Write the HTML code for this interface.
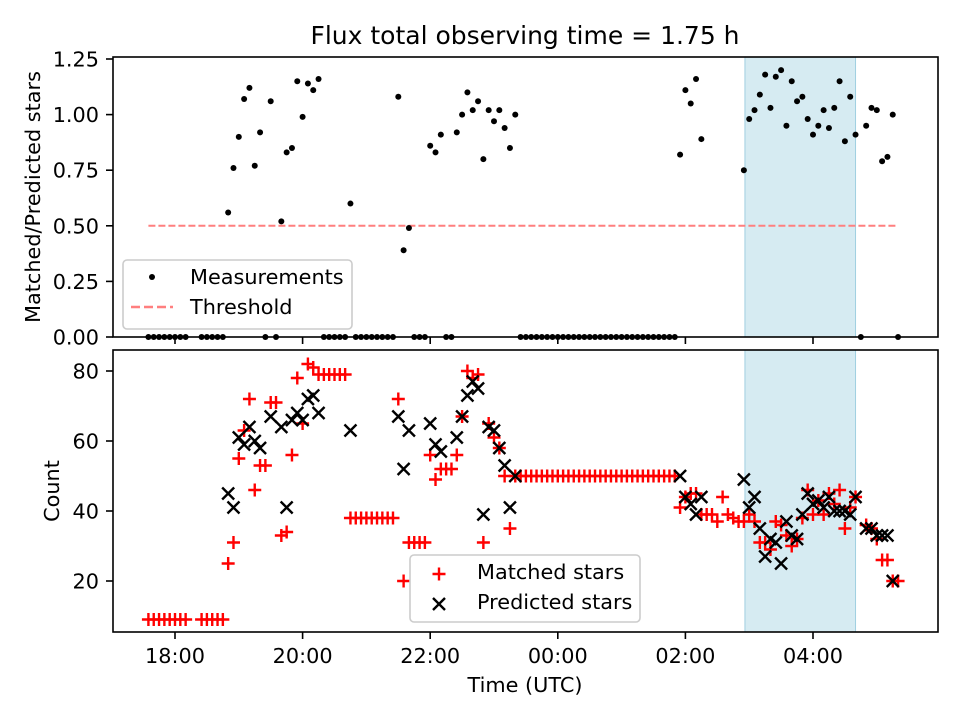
<!DOCTYPE html>
<html><head><meta charset="utf-8"><style>
body{margin:0;background:#fff;}
svg{display:block;font-family:"DejaVu Sans","Liberation Sans",sans-serif;}
</style></head><body>
<svg id="chart" width="960" height="720" viewBox="0 0 960 720" xmlns="http://www.w3.org/2000/svg">
<rect width="960" height="720" fill="#fff"/>
<text x="525" y="44" font-size="25" text-anchor="middle">Flux total observing time = 1.75 h</text>
<g id="gtop"></g>
<g id="gbot"></g>
<text transform="translate(40,197) rotate(-90)" font-size="20.8" text-anchor="middle">Matched/Predicted stars</text>
<text transform="translate(59,491) rotate(-90)" font-size="20.8" text-anchor="middle">Count</text>
<text x="525" y="692" font-size="20.8" text-anchor="middle">Time (UTC)</text>
</svg>
<script>
// minutes since 18:00
const ratioTimes = [50,55,60,65,70,75,80,90,100,105,110,115,120,125,130,135,165,210,215,220,240,245,250,265,270,275,280,285,290,295,300,305,310,315,320,475,480,485,490,495,535,540,545,550,555,560,565,570,575,580,585,590,595,600,605,610,615,620,625,630,635,640,650,655,660,665,670,675];
const ratioValues = [0.56,0.76,0.90,1.07,1.12,0.77,0.92,1.06,0.52,0.83,0.85,1.15,0.99,1.14,1.11,1.16,0.60,1.08,0.39,0.49,0.86,0.83,0.91,0.92,1.00,1.10,1.02,1.06,0.80,1.02,0.97,1.02,0.94,0.85,1.00,0.82,1.11,1.05,1.16,0.89,0.75,0.98,1.02,1.09,1.18,1.03,1.17,1.20,0.95,1.15,1.06,1.08,0.98,0.91,0.95,1.02,0.94,1.03,1.15,0.88,1.08,0.91,0.95,1.03,1.02,0.79,0.81,1.00];
const zeroTimes = [-25,-20,-15,-10,-5,0,5,10,25,30,35,40,45,85,95,140,145,150,155,160,170,175,180,185,190,195,200,205,225,230,235,255,260,325,330,335,340,345,350,355,360,365,370,375,380,385,390,395,400,405,410,415,420,425,430,435,440,445,450,455,460,465,470,645,680];
const matchedTimes = [-25,-20,-15,-10,-5,0,5,10,25,30,35,40,45,50,55,60,65,70,75,80,85,90,95,100,105,110,115,120,125,130,135,140,145,150,155,160,165,170,175,180,185,190,195,200,205,210,215,220,225,230,235,240,245,250,255,260,265,270,275,280,285,290,295,300,305,310,315,320,325,330,335,340,345,350,355,360,365,370,375,380,385,390,395,400,405,410,415,420,425,430,435,440,445,450,455,460,465,470,475,480,485,490,495,500,505,510,515,520,525,530,535,540,545,550,555,560,565,570,575,580,585,590,595,600,605,610,615,620,625,630,635,640,650,655,660,665,670,675,680];
const matchedValues = [9,9,9,9,9,9,9,9,9,9,9,9,9,
25,31,55,63,72,46,53,53,71,71,33,34,56,78,65,82,81,
79,79,79,79,79,79,
38,38,38,38,38,38,38,38,38,
72,20,31,31,31,31,56,49,52,52,52,
56,67,80,78,79,31,65,61,58,50,35,
50,50,50,50,50,50,50,50,50,50,
50,50,50,50,50,50,50,50,50,50,
50,50,50,50,50,50,50,50,50,50,
50,
41,44,45,45,39,39,39,37,44,39,38,37,37,39,37,31,31,29,37,36,33,30,32,38,46,39,43,39,45,42,46,35,41,44,
36,35,32,26,26,20,20];
const predTimes = [50,55,60,65,70,75,80,90,100,105,110,115,120,125,130,135,165,210,215,220,240,245,250,265,270,275,280,285,290,295,300,305,310,315,320,475,480,485,490,495,535,540,545,550,555,560,565,570,575,580,585,590,595,600,605,610,615,620,625,630,635,640,650,655,660,665,670,675];
const predValues = [45,41,61,59,64,60,58,67,64,41,66,68,66,72,73,68,63,67,52,63,65,59,57,61,67,73,77,75,39,64,63,58,53,41,50,50,44,42,39,44,49,41,44,35,27,32,31,25,37,33,32,39,45,42,43,41,44,40,40,40,39,44,35,35,33,33,33,20];
const xTickLabels = ["18:00","20:00","22:00","00:00","02:00","04:00"];
const xTickMinutes = [0,120,240,360,480,600];
const topTicks = [0,0.25,0.5,0.75,1.0,1.25];
const botTicks = [20,40,60,80];
const threshold = 0.5;
const shadeRange = [536,640];

const NS="http://www.w3.org/2000/svg";
const L=113,R=938,T1=57,B1=337,T2=350,B2=632;
const FS=20.8;
const xs=m=>175+m/60*63.8;
const y1=v=>337-v*222.4;
const y2=v=>581-(v-20)*3.5;
function mk(p,tag,a){const e=document.createElementNS(NS,tag);for(const k in a)e.setAttribute(k,a[k]);p.appendChild(e);return e;}
const gTop=document.getElementById('gtop'),gBot=document.getElementById('gbot');

[[gTop,T1,B1],[gBot,T2,B2]].forEach(([g,T,B])=>{
  const s=mk(g,'rect',{x:xs(shadeRange[0]),y:T,width:xs(shadeRange[1])-xs(shadeRange[0]),height:B-T,fill:'#add8e6','fill-opacity':0.5,stroke:'#9fcfe0','stroke-width':1});
  
  
});

const th=mk(gTop,'line',{x1:xs(-25),x2:xs(680),y1:y1(threshold),y2:y1(threshold),stroke:'#ff7f7f','stroke-width':2,'stroke-dasharray':'7,3'});



ratioTimes.forEach((t,i)=>{
  const c=mk(gTop,'circle',{cx:xs(t),cy:y1(ratioValues[i]),r:3,fill:'#000'});
  
  
});
zeroTimes.forEach(t=>{
  const c=mk(gTop,'circle',{cx:xs(t),cy:y1(0),r:3,fill:'#000'});
  
  
});
matchedTimes.forEach((t,i)=>{
  if(matchedValues[i]===undefined)return;
  const x=xs(t),y=y2(matchedValues[i]);
  const p=mk(gBot,'path',{d:`M${x-6.5},${y}H${x+6.5}M${x},${y-6.5}V${y+6.5}`,stroke:'#f00','stroke-width':2.4});
  
  
});
predTimes.forEach((t,i)=>{
  const x=xs(t),y=y2(predValues[i]);
  const p=mk(gBot,'path',{d:`M${x-6},${y-6}L${x+6},${y+6}M${x-6},${y+6}L${x+6},${y-6}`,stroke:'#000','stroke-width':2.4});
  
  
});

[[gTop,T1,B1],[gBot,T2,B2]].forEach(([g,T,B],k)=>{
  mk(g,'rect',{x:L,y:T,width:R-L,height:B-T,fill:'none',stroke:'#000','stroke-width':1.6});
  xTickMinutes.forEach((m,i)=>{
    mk(g,'line',{x1:xs(m),x2:xs(m),y1:B,y2:B+7,stroke:'#000','stroke-width':1.6});
    if(k===1){const t=mk(g,'text',{x:xs(m),y:B+31,'font-size':FS,'text-anchor':'middle'});t.textContent=xTickLabels[i];
      
      }
  });
});
topTicks.forEach(v=>{
  mk(gTop,'line',{x1:L-7,x2:L,y1:y1(v),y2:y1(v),stroke:'#000','stroke-width':1.6});
  const t=mk(gTop,'text',{x:L-14,y:y1(v)+7.5,'font-size':FS,'text-anchor':'end'});t.textContent=v.toFixed(2);
  
  
});
botTicks.forEach(v=>{
  mk(gBot,'line',{x1:L-7,x2:L,y1:y2(v),y2:y2(v),stroke:'#000','stroke-width':1.6});
  const t=mk(gBot,'text',{x:L-14,y:y2(v)+7.5,'font-size':FS,'text-anchor':'end'});t.textContent=v;
  
  
});

const lg1=mk(gTop,'g',{});


mk(lg1,'rect',{x:123,y:260,width:229,height:69,rx:4,fill:'#fff','fill-opacity':0.8,stroke:'#ccc','stroke-width':1.6});
mk(lg1,'circle',{cx:152,cy:277,r:3,fill:'#000'});
mk(lg1,'line',{x1:131,x2:173,y1:307,y2:307,stroke:'#ff7f7f','stroke-width':2.4,'stroke-dasharray':'9,4'});
let t=mk(lg1,'text',{x:190,y:284,'font-size':FS});t.textContent='Measurements';
t=mk(lg1,'text',{x:190,y:314,'font-size':FS});t.textContent='Threshold';

const lg2=mk(gBot,'g',{});


mk(lg2,'rect',{x:410,y:555,width:230,height:67,rx:4,fill:'#fff','fill-opacity':0.8,stroke:'#ccc','stroke-width':1.6});
mk(lg2,'path',{d:'M432.5,574H445.5M439,567.5V580.5',stroke:'#f00','stroke-width':2.4});
mk(lg2,'path',{d:'M433,598L445,610M433,610L445,598',stroke:'#000','stroke-width':2.4});
t=mk(lg2,'text',{x:477,y:579,'font-size':FS});t.textContent='Matched stars';
t=mk(lg2,'text',{x:477,y:609,'font-size':FS});t.textContent='Predicted stars';
</script>
</body></html>
